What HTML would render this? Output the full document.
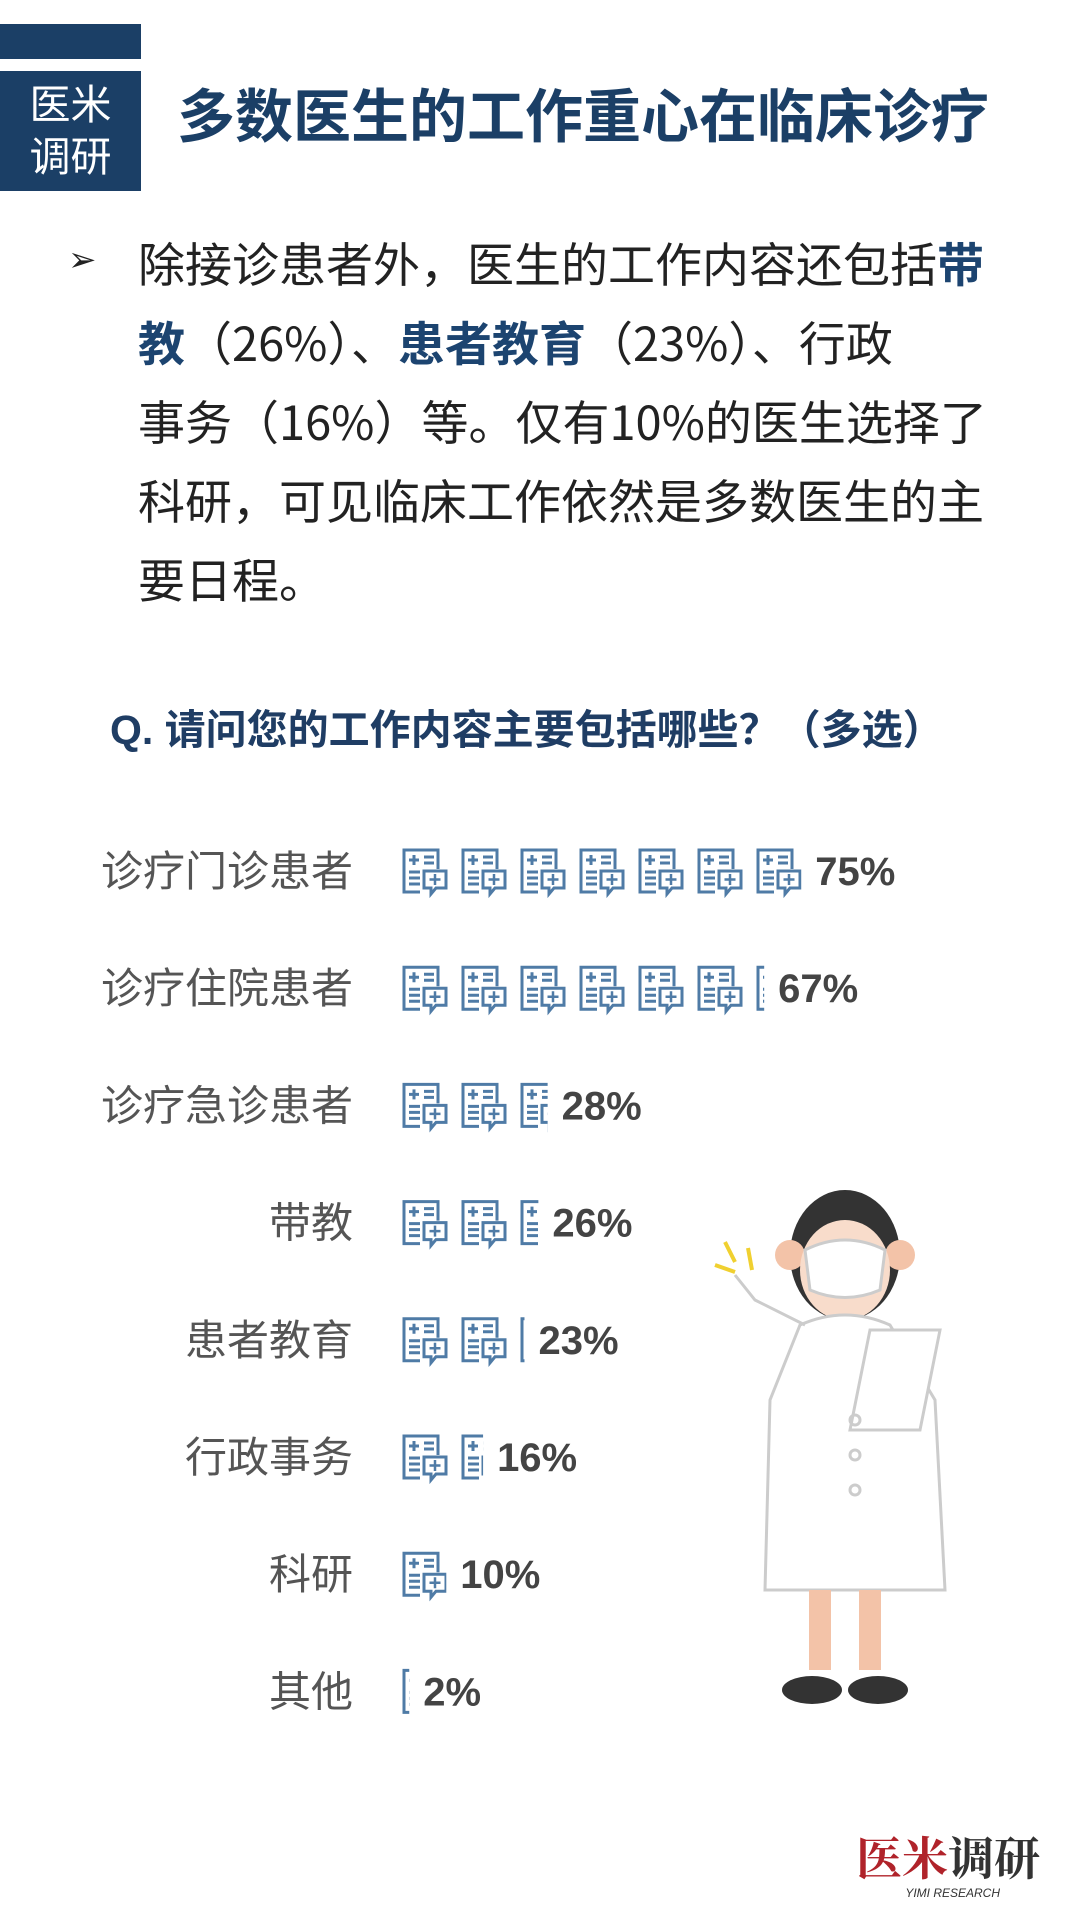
<!DOCTYPE html>
<html><head><meta charset="utf-8">
<style>
body{margin:0;background:#fff;}
#page{position:relative;width:1080px;height:1920px;overflow:hidden;background:#fff;font-family:"Liberation Sans","Noto Sans CJK SC",sans-serif;}
.abs{position:absolute;}
.para{left:138px;font-size:47px;color:#222;white-space:nowrap;line-height:79px;font-family:"Noto Sans CJK SC",sans-serif;}
.hl{color:#1c4470;font-weight:bold;}
</style></head>
<body>
<div id="page">
<div class="abs" style="left:0;top:24px;width:141px;height:35px;background:#1b3f66"></div>
<div class="abs" style="left:0;top:71px;width:141px;height:120px;background:#1b3f66;color:#fff;font-size:41px;line-height:52px;text-align:center;padding-top:8px;box-sizing:border-box">医米<br>调研</div>
<div class="abs" style="left:177px;top:70px;font-size:58px;font-weight:bold;color:#1b3f66;white-space:nowrap">多数医生的工作重心在临床诊疗</div>
<div class="abs" style="left:68px;top:240px;font-size:34px;color:#222">➢</div>
<div class="abs para" style="top:222px">除接诊患者外，医生的工作内容还包括<span class="hl">带</span><br><span class="hl">教</span>（26%）、<span class="hl">患者教育</span>（23%）、行政<br>事务（16%）等。仅有10%的医生选择了<br>科研，可见临床工作依然是多数医生的主<br>要日程。</div>
<div class="abs" style="left:110px;top:696px;font-size:41px;font-weight:bold;color:#1f3d64;white-space:nowrap">Q. 请问您的工作内容主要包括哪些？（多选）</div>
<svg class="abs" style="left:0;top:0" width="1080" height="1920" id="chart">
<defs>
<g id="ico">
<path d="M30 3 H4 V45 H20" fill="none" stroke="#4f7ba6" stroke-width="3"/>
<path d="M30 3 H38 V22" fill="none" stroke="#4f7ba6" stroke-width="3"/>
<path d="M9 13 H19 M14 8 V18 M24 10 H34 M24 16 H34 M9 25 H20 M9 31 H20 M9 37 H20" stroke="#4f7ba6" stroke-width="3"/>
<path d="M24 24 H46 V41 H36 L31 47 V41 H24 Z" fill="#fff" stroke="#4f7ba6" stroke-width="3"/>
<path d="M35 27 V38 M29.5 32.5 H40.5" stroke="#4f7ba6" stroke-width="2.5"/>
</g>
</defs>
<g id="nurse" fill="none" stroke="#ccc" stroke-width="3">
<ellipse cx="845" cy="1255" rx="55" ry="65" fill="#333" stroke="none"/>
<circle cx="790" cy="1255" r="15" fill="#f3c3a8" stroke="none"/>
<circle cx="900" cy="1255" r="15" fill="#f3c3a8" stroke="none"/>
<ellipse cx="845" cy="1270" rx="45" ry="50" fill="#f8dccb" stroke="none"/>
<path d="M805 1250 Q845 1230 885 1250 L880 1290 Q845 1305 810 1290 Z" fill="#fff" stroke="#ccc"/>
<path d="M800 1325 Q845 1305 890 1325 L935 1400 L945 1590 L765 1590 L770 1400 Z" fill="#fff"/>
<path d="M805 1325 L755 1300 L735 1275" />
<path d="M870 1330 L940 1330 L920 1430 L850 1430 Z" fill="#fff"/>
<path d="M820 1590 V1670 M870 1590 V1670" stroke="#f3c3a8" stroke-width="22"/>
<ellipse cx="812" cy="1690" rx="30" ry="14" fill="#333" stroke="none"/>
<ellipse cx="878" cy="1690" rx="30" ry="14" fill="#333" stroke="none"/>
<path d="M725 1242 L735 1262 M748 1248 L752 1270 M715 1265 L735 1272" stroke="#f0d030" stroke-width="4"/>
<circle cx="855" cy="1420" r="5"/><circle cx="855" cy="1455" r="5"/><circle cx="855" cy="1490" r="5"/>
</g>
<text x="1040" y="1875" text-anchor="end" font-size="46" font-weight="bold" fill="#b0232a" font-family="Liberation Serif, Noto Serif CJK SC, serif">医米<tspan fill="#333">调研</tspan></text>
<text x="1000" y="1897" text-anchor="end" font-size="12" fill="#333" font-style="italic">YIMI RESEARCH</text>
</svg>
<script>
const categories=["诊疗门诊患者","诊疗住院患者","诊疗急诊患者","带教","患者教育","行政事务","科研","其他"];
const values=[75,67,28,26,23,16,10,2];
const labels=["75%","67%","28%","26%","23%","16%","10%","2%"];
const svg=document.getElementById('chart');
const NS="http://www.w3.org/2000/svg";
const y0=871,step=117.2,x0=400,iconStep=59,perIcon=10.8;
function yPos(i){return y0+i*step;}
function iconCount(v){return v/perIcon;}
categories.forEach((c,i)=>{
  const y=yPos(i);
  const t=document.createElementNS(NS,'text');
  
  
  t.setAttribute('x',353);t.setAttribute('y',y+15);t.setAttribute('text-anchor','end');
  t.setAttribute('font-size','42');t.setAttribute('fill','#555');
  t.setAttribute('font-family','Liberation Sans, Noto Sans CJK SC, sans-serif');
  t.textContent=c;svg.appendChild(t);
  const n=iconCount(values[i]);
  const cp=document.createElementNS(NS,'clipPath');cp.setAttribute('id','cp'+i);
  const r=document.createElementNS(NS,'rect');
  const w=Math.floor(n)*iconStep+(n-Math.floor(n))*50;
  r.setAttribute('x',x0);r.setAttribute('y',y-30);r.setAttribute('width',w);r.setAttribute('height',60);
  cp.appendChild(r);svg.appendChild(cp);
  const g=document.createElementNS(NS,'g');
  
  
  g.setAttribute('clip-path','url(#cp'+i+')');
  for(let k=0;k<Math.ceil(n);k++){
    const u=document.createElementNS(NS,'use');
    u.setAttribute('href','#ico');
    u.setAttribute('x',x0+k*iconStep);u.setAttribute('y',y-24);
    g.appendChild(u);
  }
  svg.appendChild(g);
  const p=document.createElementNS(NS,'text');
  
  
  p.setAttribute('x',x0+w+14);p.setAttribute('y',y+14);
  p.setAttribute('font-size','40');p.setAttribute('font-weight','bold');p.setAttribute('fill','#444');
  p.setAttribute('font-family','Liberation Sans, sans-serif');
  p.textContent=labels[i];svg.appendChild(p);
});
</script>
</div>
</body></html>
